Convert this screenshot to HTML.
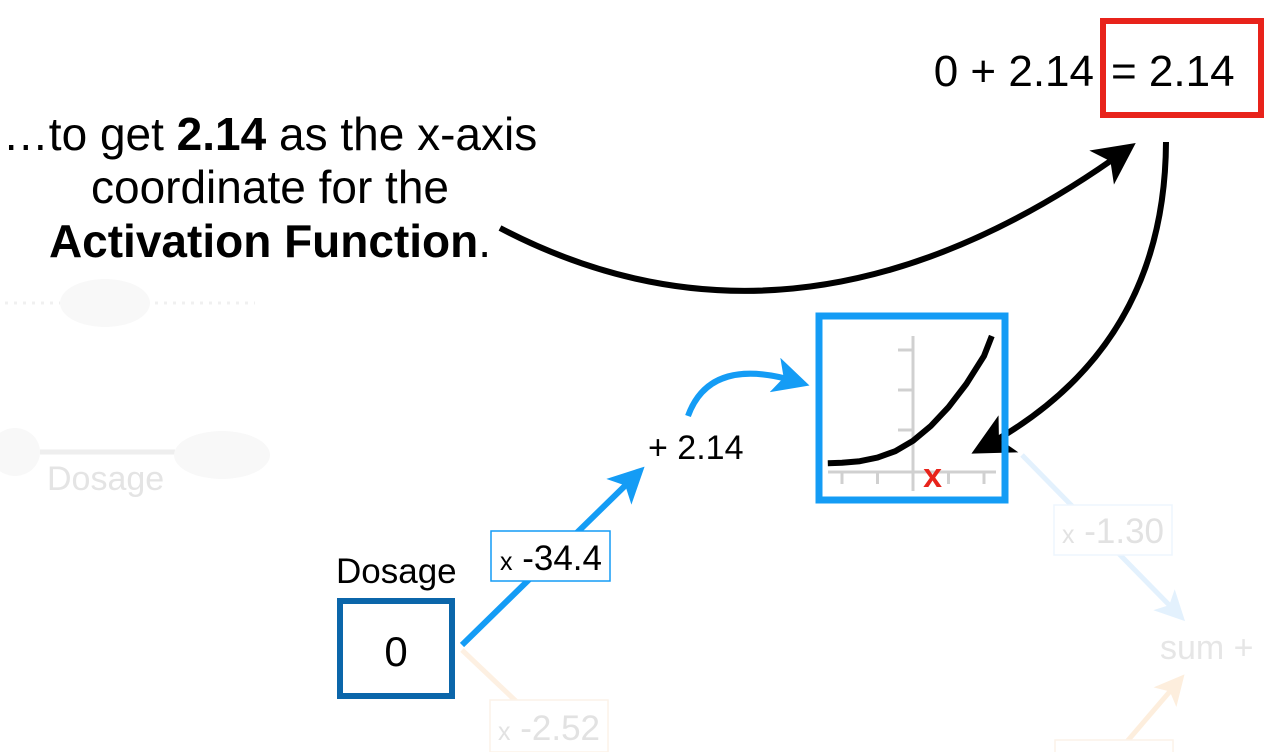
<!DOCTYPE html>
<html><head><meta charset="utf-8"><style>
html,body{margin:0;padding:0;background:#fff;}
svg{display:block;font-family:"Liberation Sans",Arial,sans-serif;}
</style></head><body>
<svg id="s" width="1274" height="752" viewBox="0 0 1274 752" xmlns="http://www.w3.org/2000/svg">
<defs>
<marker id="ab" markerWidth="7" markerHeight="7" refX="5" refY="3.5" orient="auto" markerUnits="strokeWidth"><path d="M0,0 L7,3.5 L0,7 L1.8,3.5 Z" fill="#000"/></marker>
<marker id="abl" markerWidth="6" markerHeight="6" refX="4" refY="3" orient="auto" markerUnits="strokeWidth"><path d="M0,0 L6,3 L0,6 L1.5,3 Z" fill="#149cf5"/></marker>
<marker id="afb" markerWidth="6" markerHeight="6" refX="4" refY="3" orient="auto" markerUnits="strokeWidth"><path d="M0,0 L6,3 L0,6 L1.5,3 Z" fill="#e3f1fd"/></marker>
<marker id="afo" markerWidth="6" markerHeight="6" refX="4" refY="3" orient="auto" markerUnits="strokeWidth"><path d="M0,0 L6,3 L0,6 L1.5,3 Z" fill="#fdeedd"/></marker>
</defs>

<g>
<line x1="5" y1="303" x2="60" y2="303" stroke="#f0f0f0" stroke-width="3" stroke-dasharray="3 6"/>
<ellipse cx="105" cy="303" rx="45" ry="24" fill="#f8f8f8"/>
<line x1="155" y1="303" x2="255" y2="303" stroke="#f0f0f0" stroke-width="3" stroke-dasharray="3 6"/>
<ellipse cx="15" cy="452" rx="25" ry="24" fill="#f8f8f8"/>
<line x1="40" y1="452" x2="175" y2="452" stroke="#eeeeee" stroke-width="5"/>
<ellipse cx="222" cy="455" rx="48" ry="24" fill="#f8f8f8"/>
<text x="47" y="490" font-size="34" fill="#e4e4e4">Dosage</text>
<line x1="1022" y1="455" x2="1178" y2="614" stroke="#e3f1fd" stroke-width="5" marker-end="url(#afb)"/>
<rect x="1054" y="505" width="118" height="50" fill="#fff" stroke="#eef6fd" stroke-width="1.5"/>
<text x="1113" y="543" font-size="35" fill="#e2e2e2" text-anchor="middle"><tspan font-size="25">x</tspan> -1.30</text>
<text x="1160" y="659" font-size="34" fill="#e6e6e6">sum + </text>
<line x1="1118" y1="752" x2="1178" y2="682" stroke="#fdeedd" stroke-width="5" marker-end="url(#afo)"/>
<line x1="462" y1="650" x2="520" y2="705" stroke="#fdf0e2" stroke-width="5"/>
<rect x="490" y="700" width="118" height="52" fill="#fff" stroke="#fcf2e8" stroke-width="1.5"/>
<text x="549" y="740" font-size="35" fill="#e2e2e2" text-anchor="middle"><tspan font-size="25">x</tspan> -2.52</text>
<rect x="1055" y="740" width="118" height="20" fill="#fff" stroke="#fcf2e8" stroke-width="1.5"/>
</g>

<g font-size="46" fill="#000" text-anchor="middle">
<text x="270" y="150">…to get <tspan font-weight="bold">2.14</tspan> as the x-axis</text>
<text x="270" y="203">coordinate for the</text>
<text x="270" y="257"><tspan font-weight="bold">Activation Function</tspan>.</text>
</g>

<text x="1094" y="86" font-size="44" text-anchor="end" fill="#000">0 + 2.14</text>
<rect x="1103" y="21" width="158" height="94" fill="none" stroke="#e8231b" stroke-width="6"/>
<text x="1111" y="86" font-size="44" fill="#000">= 2.14</text>

<path d="M500,228 Q800,385 1126,150" fill="none" stroke="#000" stroke-width="6" marker-end="url(#ab)"/>
<path d="M1166,142 Q1165,350 982,448" fill="none" stroke="#000" stroke-width="6" marker-end="url(#ab)"/>

<rect x="819" y="316" width="186" height="184" fill="none" stroke="#149cf5" stroke-width="7"/>
<g id="act"></g>

<text x="336" y="583" font-size="35" fill="#000">Dosage</text>
<rect x="340" y="601" width="112" height="95" fill="#fff" stroke="#0b66aa" stroke-width="6"/>
<text x="396" y="666" font-size="42" fill="#000" text-anchor="middle">0</text>

<line x1="462" y1="645" x2="636" y2="475" stroke="#149cf5" stroke-width="6" marker-end="url(#abl)"/>
<rect x="491" y="531" width="119" height="50" fill="#fff" stroke="#149cf5" stroke-width="1.5"/>
<text x="551" y="570" font-size="35" fill="#000" text-anchor="middle"><tspan font-size="25">x</tspan> -34.4</text>
<text x="648" y="459" font-size="34" fill="#000">+ 2.14</text>
<path d="M688,416 Q710,355 798,382" fill="none" stroke="#149cf5" stroke-width="6" marker-end="url(#abl)"/>
</svg>
<script>
const actX = [-2.4, -2, -1.5, -1, -0.5, 0, 0.5, 1, 1.5, 2, 2.22];
const actY = [0.22, 0.23, 0.27, 0.36, 0.52, 0.78, 1.15, 1.62, 2.2, 2.9, 3.4];
const xTicks = [-2, -1, 1, 2];
const yTicks = [1, 2, 3];
const markX = [0.55];

const xs = v => 913 + v * 35.5;
const ys = v => 472 - v * 40;
const NS = "http://www.w3.org/2000/svg";
const g = document.getElementById('act');
function mk(tag, attrs){const e=document.createElementNS(NS,tag);for(const k in attrs)e.setAttribute(k,attrs[k]);g.appendChild(e);return e;}

const xa = mk('line',{x1:828,y1:472,x2:996,y2:472,stroke:'#d0d0d0','stroke-width':3});


const ya = mk('line',{x1:913,y1:336,x2:913,y2:491,stroke:'#d0d0d0','stroke-width':3});


xTicks.forEach(t=>{
  const l = mk('line',{x1:xs(t),y1:472,x2:xs(t),y2:484,stroke:'#d0d0d0','stroke-width':3});
  
  
});
yTicks.forEach(t=>{
  const l = mk('line',{x1:898,y1:ys(t)-2,x2:913,y2:ys(t)-2,stroke:'#d0d0d0','stroke-width':3});
  
  
});
let d = '';
actX.forEach((v,i)=>{ d += (i?'L':'M') + xs(v).toFixed(1) + ',' + ys(actY[i]).toFixed(1) + ' '; });
const curve = mk('path',{d:d,fill:'none',stroke:'#000','stroke-width':6,'stroke-linejoin':'round'});


markX.forEach(v=>{
  const t = mk('text',{x:xs(v),y:487,'font-size':34,'font-weight':'bold',fill:'#e8231b','text-anchor':'middle'});
  t.textContent = 'x';
  
  
});
</script>
</body></html>
